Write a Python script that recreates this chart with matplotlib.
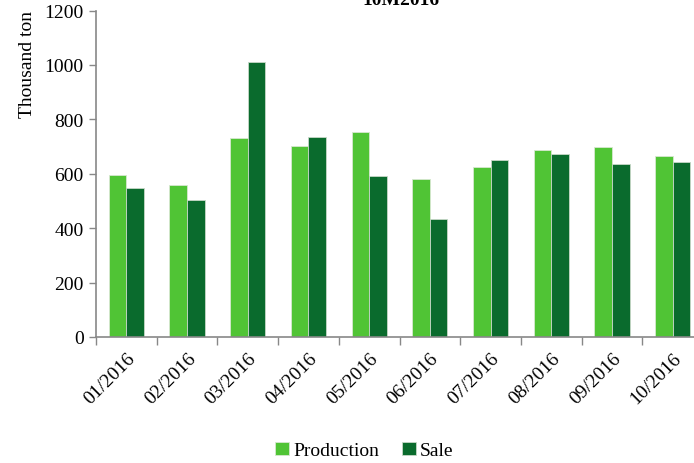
import numpy as np
import matplotlib
matplotlib.use('Agg')
import matplotlib.pyplot as plt

months = ['01/2016', '02/2016', '03/2016', '04/2016', '05/2016',
          '06/2016', '07/2016', '08/2016', '09/2016', '10/2016']
production = [597, 557, 733, 703, 755, 582, 626, 689, 700, 667]
sale = [549, 505, 1010, 736, 593, 434, 652, 674, 634, 643]

plt.rcParams['font.family'] = ['Liberation Serif', 'DejaVu Serif']

fig = plt.figure(figsize=(6.94, 4.64), dpi=100)
ax = fig.add_axes([96/694, 1-338/464, (703-96)/694, (338-11.5)/464])

x = np.arange(len(months))
w = 0.29
ax.bar(x - w/2, production, w, color='#50c435', edgecolor='#d8e8d0', linewidth=0.6, label='Production')
ax.bar(x + w/2, sale, w, color='#0a6b2d', edgecolor='#c8d8c8', linewidth=0.6, label='Sale')

ax.set_xlim(-0.5, 9.5)
ax.set_ylim(0, 1200)
ax.set_yticks(range(0, 1201, 200))
ax.set_xticks(np.arange(-0.5, 10, 1), minor=False)
ax.set_xticklabels([])
ax.set_xticks(x, minor=True)
ax.set_xticklabels(months, minor=True, rotation=45, ha='right', rotation_mode='anchor', fontsize=14)
ax.tick_params(axis='x', which='minor', length=0, pad=9)
ax.tick_params(axis='x', which='major', length=6, color='#888888', width=1)
ax.tick_params(axis='y', length=5, color='#888888', width=1, labelsize=14, pad=4)

for s in ['top', 'right']:
    ax.spines[s].set_visible(False)
for s in ['left', 'bottom']:
    ax.spines[s].set_color('#888888')
    ax.spines[s].set_linewidth(1.2)

ax.set_ylabel('Thousand ton', fontsize=14, labelpad=6, loc='top')

fig.legend(loc='center', bbox_to_anchor=(0.525, 0.027), ncol=2, frameon=False,
           fontsize=14, handlelength=0.7, handleheight=0.7, handletextpad=0.2,
           columnspacing=1.2)

fig.text(401/694, 1 - 5/464, '10M2016', ha='center', va='baseline',
         fontsize=14, fontweight='bold')

fig.savefig('out.png', dpi=100)
